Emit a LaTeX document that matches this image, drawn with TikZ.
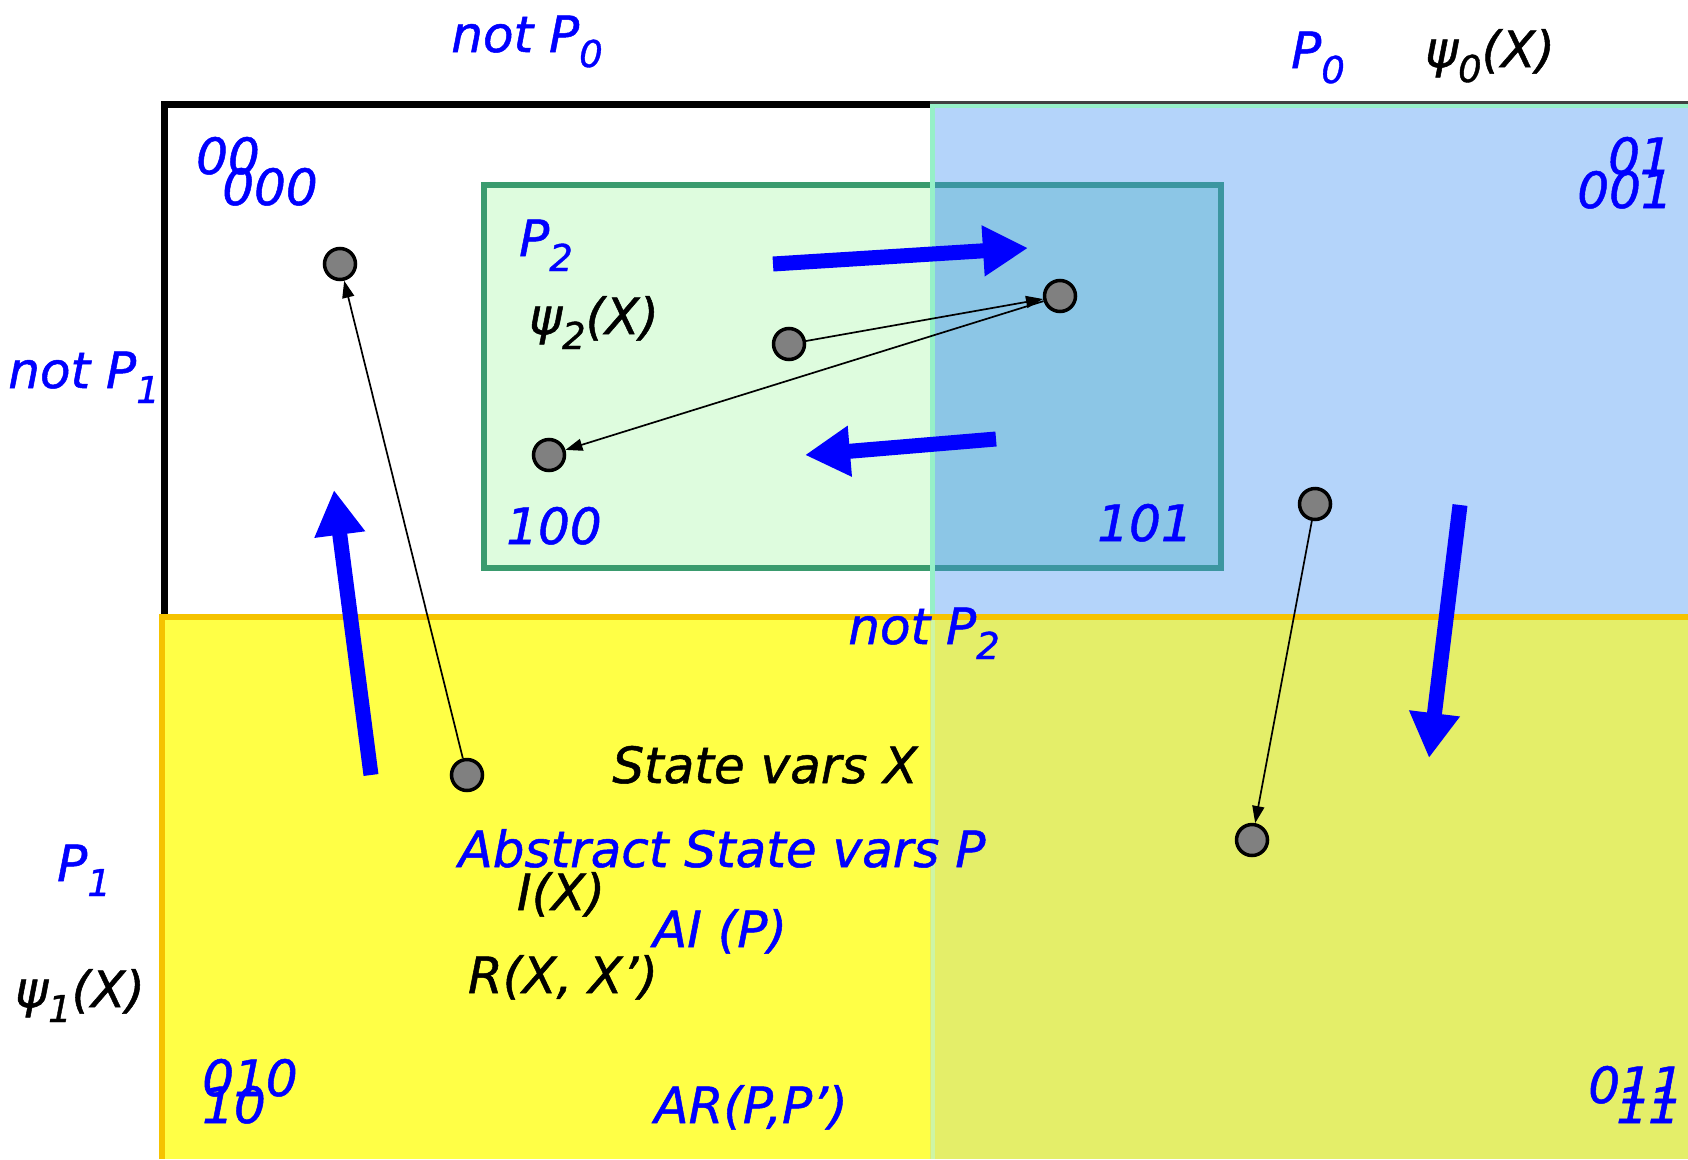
\documentclass[tikz,border=0pt]{standalone}
\usepackage{fontspec}
\setmainfont{DejaVu Sans}[ItalicFeatures={FakeBold=1}]
\usetikzlibrary{arrows.meta}
\definecolor{bluefill}{RGB}{180,212,250}
\definecolor{ovlfill}{RGB}{140,198,230}
\definecolor{greenfill}{RGB}{222,252,222}
\definecolor{greenedge}{RGB}{58,155,110}
\definecolor{tealedge}{RGB}{60,150,160}
\definecolor{aqua}{RGB}{150,240,200}
\definecolor{aqualight}{RGB}{205,245,165}
\definecolor{yellowfill}{RGB}{255,255,70}
\definecolor{ygfill}{RGB}{228,238,105}
\definecolor{orangeedge}{RGB}{245,195,0}
\definecolor{dotgray}{RGB}{128,128,128}
\definecolor{txtblue}{RGB}{0,0,255}
\newcommand{\lsub}[1]{\raisebox{-0.3em}{\fontsize{37}{37}\selectfont #1}}
\tikzset{
  lbl/.style={font=\fontsize{50}{58}\selectfont\itshape, inner sep=0pt, anchor=base},
  bl/.style={lbl, text=txtblue},
  bk/.style={lbl, text=black},
  dot/.style={circle, draw=black, line width=3.5pt, fill=dotgray, minimum size=31pt, inner sep=0pt},
  trans/.style={line width=1.7pt, -{Triangle[length=17pt,width=12pt]}},
  fat/.style={draw=txtblue, line width=15pt, -{Triangle[length=45pt,width=48pt]}}
}
\begin{document}
\begin{tikzpicture}[x=1pt,y=-1pt]
\useasboundingbox (0,0) rectangle (1688,1159);
\fill[white] (0,0) rectangle (1688,1159);
% regions
\fill[bluefill] (930,104) rectangle (1688,617);
\fill[yellowfill] (162,617) rectangle (930,1159);
\fill[ygfill] (930,617) rectangle (1688,1159);
% P2 box
\fill[greenfill] (484,185) rectangle (930,568);
\fill[ovlfill] (930,185) rectangle (1221,568);
\draw[greenedge, line width=6pt] (930,185) -- (484,185) -- (484,568) -- (930,568);
\draw[tealedge, line width=6pt] (930,185) -- (1221,185) -- (1221,568) -- (930,568);
% black frame
\draw[black, line width=6.5pt] (164.5,617) -- (164.5,104.5) -- (932,104.5);
\draw[black!75, line width=3pt] (930,102) -- (1688,102);
\draw[aqua, line width=4pt] (930,106) -- (1688,106);
% dividing lines
\draw[aqua, line width=5pt] (932.5,104) -- (932.5,617);
\draw[aqualight, line width=4pt] (932.5,617) -- (932.5,1159);
\draw[orangeedge, line width=5.5pt] (1688,617) -- (162,617) -- (162,1159);
% states
\node[dot] (a) at (340,264) {};
\node[dot] (b) at (789,344) {};
\node[dot] (c) at (1060,296) {};
\node[dot] (d) at (549,455) {};
\node[dot] (e) at (467,775) {};
\node[dot] (f) at (1315,504) {};
\node[dot] (g) at (1252,840) {};
\draw[trans] (e) -- (a);
\draw[trans] (b) -- (c);
\draw[trans] (c) -- (d);
\draw[trans] (f) -- (g);
% abstract transitions
\coordinate (u0) at (371,775); \coordinate (u1) at (334,490);
\coordinate (r0) at (773,264); \coordinate (r1) at (1028,248);
\coordinate (l0) at (996,439); \coordinate (l1) at (805,455);
\coordinate (d0) at (1460,505); \coordinate (d1) at (1429,758);
\draw[fat] (u0) -- (u1);
\draw[fat] (r0) -- (r1);
\draw[fat] (l0) -- (l1);
\draw[fat] (d0) -- (d1);
% labels
\node[bl] (np0) at (527,52) {not P\lsub{0}};
\node[bl] (p0) at (1318,68) {P\lsub{0}};
\node[bk] (psi0) at (1490,67) {ψ\lsub{0}(X)};
\node[bl] (s00) at (228,174) {00};
\node[bl] (s000) at (270,205) {000};
\node[bl] (s01) at (1640,174) {01};
\node[bl] (s001) at (1625,208) {001};
\node[bl] (np1) at (84,388) {not P\lsub{1}};
\node[bl] (p2) at (546,256) {P\lsub{2}};
\node[bk] (psi2) at (594,334) {ψ\lsub{2}(X)};
\node[bl] (s100) at (554,544) {100};
\node[bl] (s101) at (1145,541) {101};
\node[bl] (np2) at (924,644) {not P\lsub{2}};
\node[bk] (svx) at (765,783) {State vars X};
\node[bl] (asv) at (722,867) {Abstract State vars P};
\node[bk] (ix) at (561,910) {I(X)};
\node[bl] (aip) at (720,947) {AI (P)};
\node[bk] (rxx) at (563,993) {R(X, X')};
\node[bl] (p1) at (84,881) {P\lsub{1}};
\node[bk] (psi1) at (80,1007) {ψ\lsub{1}(X)};
\node[bl] (s010) at (250,1096) {010};
\node[bl] (s10) at (234,1123) {10};
\node[bl] (s011) at (1636,1103) {011};
\node[bl] (s11) at (1648,1123) {11};
\node[bl] (arp) at (751,1123) {AR(P,P')};
\end{tikzpicture}
\end{document}
